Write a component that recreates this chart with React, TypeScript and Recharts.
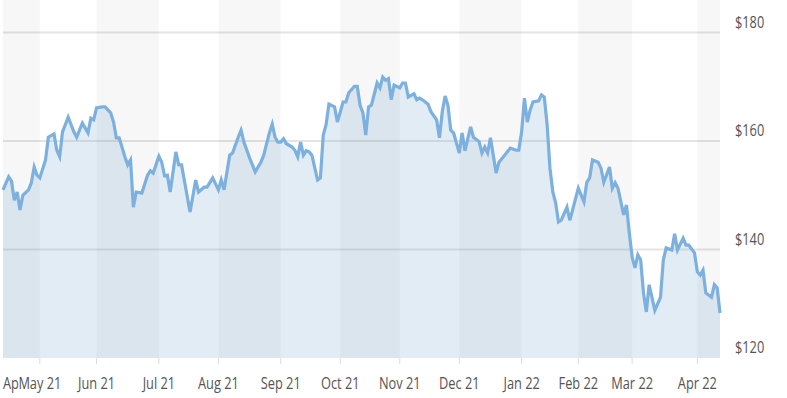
import React from "react";
import {
  AreaChart, Area, XAxis, YAxis, CartesianGrid, ReferenceArea
} from "recharts";

// trading-day index since the start of the window (mid April 2021)
const tradingDay = [
  0, 2, 3, 4, 5, 6, 7, 9, 10, 11, 12, 13, 15, 16, 18, 19, 20, 21, 23, 25,
  26, 27, 28, 30, 31, 32, 33, 35, 36, 38, 39, 40, 41, 43, 44, 45, 46, 47, 49, 51,
  52, 53, 55, 56, 57, 58, 59, 61, 62, 63, 66, 68, 69, 71, 72, 74, 76, 77, 78, 80,
  81, 83, 84, 85, 87, 89, 91, 92, 94, 95, 96, 97, 98, 99, 100, 102, 103, 104, 105, 106,
  107, 108, 109, 111, 112, 113, 114, 115, 117, 118, 120, 121, 122, 124, 125, 126, 127, 128, 129, 130,
  132, 133, 134, 135, 136, 137, 138, 140, 141, 142, 143, 145, 146, 147, 148, 150, 151, 153, 154, 155,
  156, 157, 158, 159, 161, 162, 163, 165, 166, 168, 169, 170, 171, 172, 173, 174, 175, 177, 179, 181,
  182, 183, 184, 185, 186, 187, 189, 190, 191, 192, 193, 194, 195, 196, 197, 199, 200, 201, 203, 205,
  206, 207, 208, 210, 211, 212, 214, 215, 216, 217, 219, 220, 221, 222, 223, 224, 225, 226, 227, 228,
  230, 232, 233, 234, 236, 237, 238, 240, 241, 242, 244, 245, 246, 247, 248, 250, 251, 252, 253,
];

const closePrice = [
  151.0, 153.4, 152.6, 149.1, 150.6, 147.3, 150.0, 151.0, 152.3, 155.2, 153.7, 153.2, 156.5, 160.7, 161.3, 158.3, 157.1, 161.7, 164.4, 161.7,
  160.7, 162.0, 163.3, 161.5, 164.2, 163.9, 166.1, 166.3, 166.3, 165.2, 163.5, 160.6, 160.6, 157.1, 155.6, 156.5, 147.8, 150.6, 150.4, 153.7,
  154.5, 154.1, 157.2, 156.1, 153.6, 153.7, 150.6, 158.0, 155.6, 155.6, 146.9, 152.8, 150.6, 151.5, 151.5, 153.2, 151.0, 152.8, 151.0, 157.4,
  157.8, 160.7, 162.0, 159.8, 156.9, 154.3, 156.1, 157.4, 161.5, 163.1, 160.7, 159.8, 159.8, 160.4, 159.5, 158.9, 158.3, 157.1, 159.8, 157.4,
  158.2, 158.0, 157.4, 152.8, 153.2, 161.1, 163.0, 166.8, 166.3, 163.5, 167.2, 167.2, 168.9, 170.1, 170.1, 166.6, 165.2, 161.1, 166.3, 166.6,
  170.7, 169.8, 171.8, 171.2, 171.5, 167.6, 170.3, 169.8, 170.7, 170.7, 168.1, 168.7, 167.6, 167.9, 167.6, 166.8, 165.4, 163.9, 160.6, 165.4,
  168.3, 166.6, 162.0, 161.5, 157.8, 161.5, 158.2, 162.6, 160.7, 159.9, 157.8, 158.9, 157.8, 160.6, 157.4, 154.1, 156.1, 157.4, 158.7, 158.3,
  158.3, 161.7, 167.9, 163.5, 165.7, 167.2, 167.4, 168.5, 168.1, 163.0, 155.0, 150.6, 148.6, 145.1, 145.4, 147.8, 145.4, 147.3, 151.3, 148.8,
  152.4, 153.2, 156.5, 156.1, 155.0, 152.4, 155.2, 151.3, 152.3, 151.3, 146.4, 148.2, 143.0, 138.6, 136.6, 139.0, 138.1, 132.0, 128.5, 133.5,
  128.8, 131.2, 138.1, 140.3, 139.9, 142.9, 139.9, 142.1, 140.8, 140.8, 139.4, 135.9, 135.3, 136.2, 132.0, 131.2, 133.5, 132.9, 128.3,
];

// first trading day of each month
const monthStart = [0, 13, 33, 55, 76, 98, 119, 140, 161, 183, 203, 222, 245];
const monthLabel = [
  "Apr 21", "May 21", "Jun 21", "Jul 21", "Aug 21", "Sep 21",
  "Oct 21", "Nov 21", "Dec 21", "Jan 22", "Feb 22", "Mar 22", "Apr 22",
];
const lastDay = 253;
const priceTicks = [120, 140, 160, 180];

const data = tradingDay.map((d, i) => ({ day: d, price: closePrice[i] }));

// shaded every other month, starting with the partial April
const bands = monthStart
  .map((start, i) => ({ start, end: monthStart[i + 1] ?? lastDay }))
  .filter((_, i) => i % 2 === 0);

const FONT = "'Open Sans', sans-serif";
const NARROW = 0.8; // squeeze to mimic the condensed face

const MonthTick = (props: any) => {
  const { x, y, payload, index } = props;
  const label = monthLabel[monthStart.indexOf(payload.value)];
  if (index === 0) {
    return (
      <text transform={`translate(3,${y + 23}) scale(${NARROW},1)`} fill="#555" fontSize={16} fontFamily={FONT}>
        {label}
      </text>
    );
  }
  return (
    <g>
      <line x1={x} x2={x} y1={y - 8} y2={y - 2} stroke="#d6dde6" />
      <rect x={x - 21} y={y + 8} width={42} height={20} fill="#fff" />
      <text
        transform={`translate(${x},${y + 23}) scale(${NARROW},1)`}
        textAnchor="middle"
        fill="#555"
        fontSize={16}
        fontFamily={FONT}
      >
        {label}
      </text>
    </g>
  );
};

const PriceTick = (props: any) => {
  const { y, payload } = props;
  return (
    <text transform={`translate(735,${y - 5}) scale(${NARROW},1)`} fill="#555" fontSize={16} fontFamily={FONT}>
      {`$${payload.value}`}
    </text>
  );
};

export default function App() {
  return (
    <div style={{ position: "absolute", left: 0, top: 0, width: 787, height: 398, background: "#fff" }}>
      <AreaChart width={787} height={398} data={data} margin={{ top: 0, right: 0, left: 3, bottom: 0 }}>
        {bands.map((b) => (
          <ReferenceArea key={b.start} x1={b.start} x2={b.end} fill="#000" fillOpacity={0.03} stroke="none" />
        ))}
        <CartesianGrid vertical={false} horizontalValues={[140, 160, 180]} stroke="#e4e4e4" strokeWidth={2} />
        <XAxis
          dataKey="day"
          type="number"
          domain={[0, lastDay]}
          ticks={monthStart}
          interval={0}
          tick={<MonthTick />}
          tickLine={false}
          axisLine={false}
          height={40}
        />
        <YAxis
          orientation="right"
          domain={[120, 186]}
          ticks={priceTicks}
          tick={<PriceTick />}
          tickLine={false}
          axisLine={false}
          width={67}
        />
        <Area
          type="linear"
          dataKey="price"
          stroke="#7cb0de"
          strokeWidth={3.2}
          fill="#7aa8d2"
          fillOpacity={0.22}
          dot={false}
          activeDot={false}
          isAnimationActive={false}
        />
      </AreaChart>
    </div>
  );
}
